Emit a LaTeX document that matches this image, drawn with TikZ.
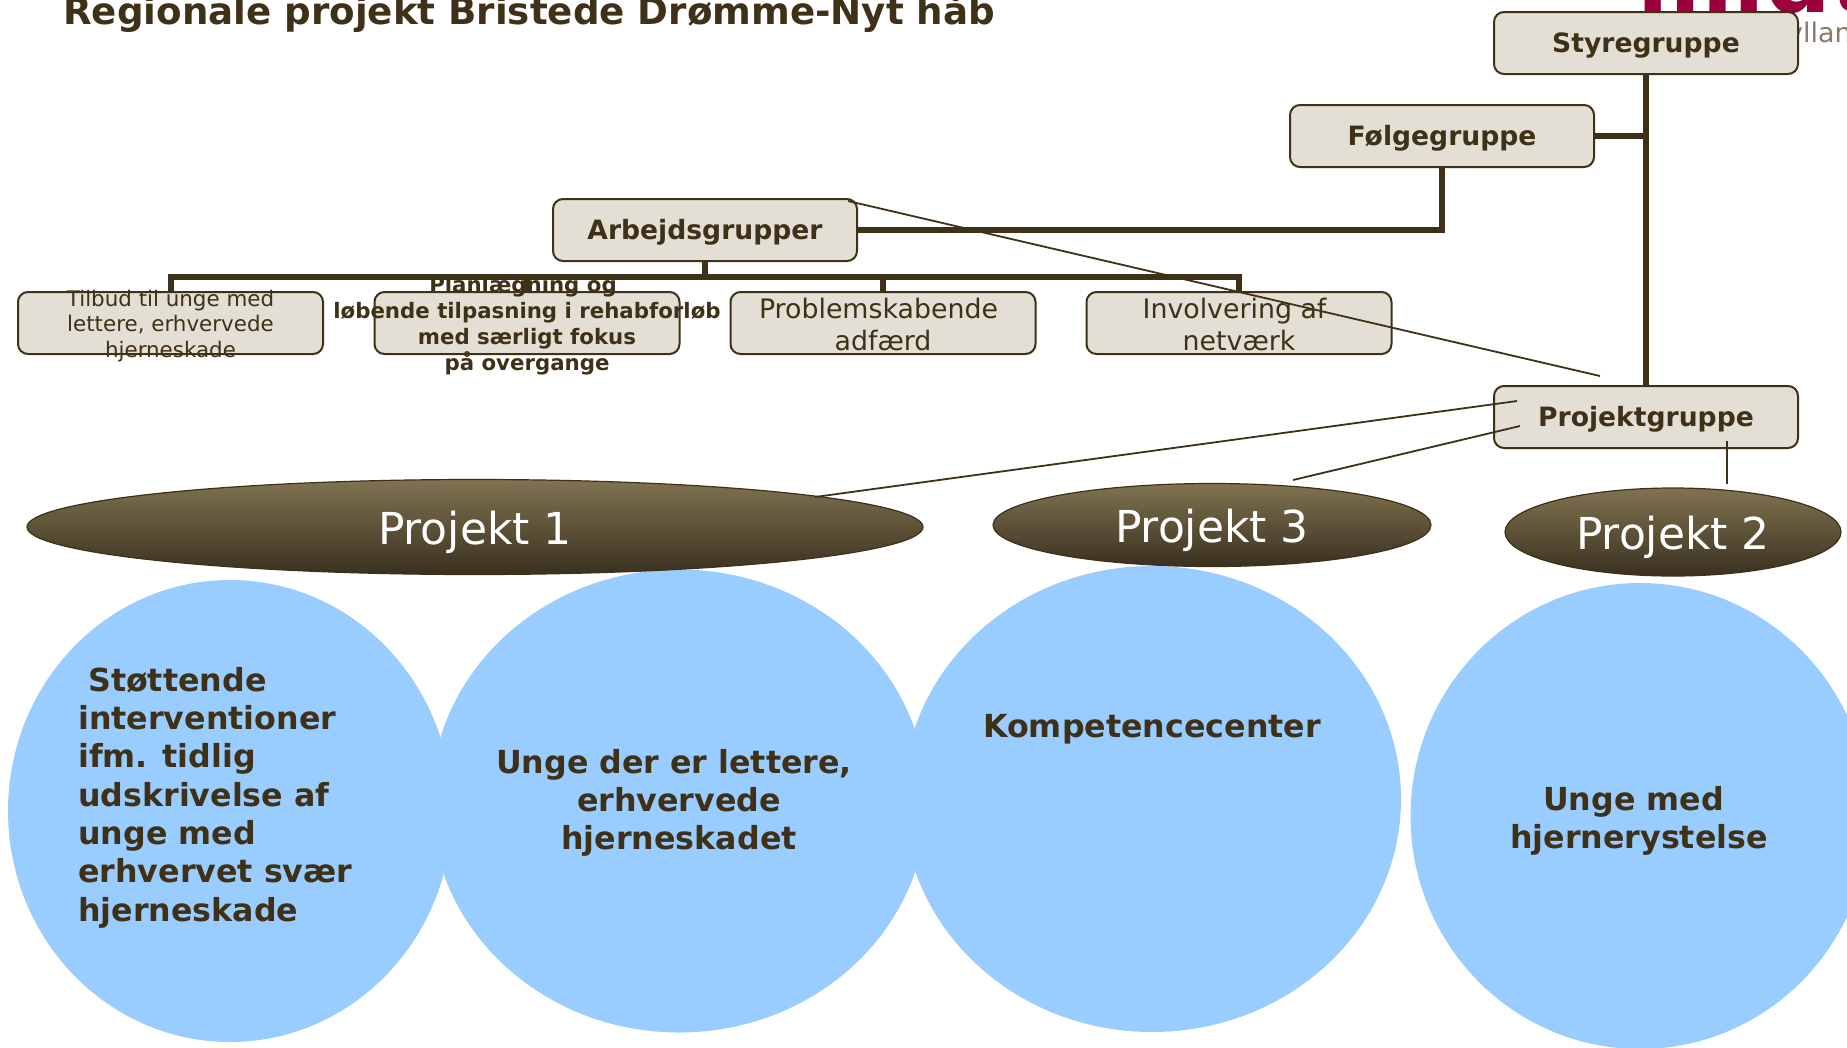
\documentclass[tikz,border=0pt]{standalone}
\usepackage{fontspec}
\setmainfont{DejaVu Sans}
\usetikzlibrary{shapes.geometric}
\definecolor{ink}{HTML}{3F3018}
\definecolor{boxfill}{HTML}{E3DFD4}
\definecolor{blob}{HTML}{99CCFF}
\definecolor{logo}{HTML}{99003C}
\definecolor{logograu}{HTML}{8A7A6A}
\definecolor{ptop}{HTML}{807350}
\definecolor{pbot}{HTML}{3A3020}
\newcommand{\fs}[2]{\fontsize{#1}{#2}\selectfont}
\newcommand{\dn}[1]{\raisebox{0pt}[\dimexpr\height+5pt\relax]{#1}}
\newcommand{\dnp}[1]{\raisebox{0pt}[\dimexpr\height+11pt\relax]{#1}}
\tikzset{
  orgbox/.style={draw=ink,line width=2pt,fill=boxfill,rounded corners=10pt,minimum width=#1,minimum height=62pt,inner sep=0pt,text=ink,align=center},
  orgbox/.default=304pt,
  thick link/.style={draw=ink,line width=6pt},
  thin link/.style={draw=ink,line width=1.8pt},
  projekt/.style={ellipse,draw=ink,line width=1.2pt,top color=ptop,bottom color=pbot,inner sep=0pt,text=white,font=\fs{44}{46}},
  blobshape/.style={ellipse,fill=blob,inner sep=0pt},
  blobtext/.style={text=ink,font=\bfseries\fs{31.7}{38.3},align=#1,inner sep=0pt},
  blobtext/.default=center,
  boxlabel/.style={font=\bfseries\fs{26.6}{30}}
}
\begin{document}
\begin{tikzpicture}[x=1pt,y=-1pt]
\useasboundingbox (0,0) rectangle (1847,1047);
\clip (0,0) rectangle (1847,1047);
% logo fragments and title
\node[anchor=base east,text=logo,font=\bfseries\fs{92}{92},inner sep=0pt] (logotext) at (1875,12) {midt};
\node[anchor=base east,text=logograu,font=\fs{27}{30},inner sep=0pt] (logosub) at (1869,42) {jylland};
\node[anchor=base west,text=ink,font=\bfseries\fs{37.2}{40},inner sep=0pt] (title) at (63,24) {Regionale projekt Bristede Drømme-Nyt håb};
% circles
\node[blobshape,minimum width=444pt,minimum height=462pt] (c1) at (230,811) {};
\node[blobshape,minimum width=459pt,minimum height=466pt] (c4) at (1640,816) {};
\node[blobshape,minimum width=496pt,minimum height=463pt] (c2) at (679,801) {};
\node[blobshape,minimum width=498pt,minimum height=466pt] (c3) at (1152,799) {};
% circle text
\node[blobtext=left,anchor=north west] (t1) at (78,667) {\hspace*{10pt}Støttende\\interventioner\\ifm. tidlig\\udskrivelse af\\unge med\\erhvervet svær\\hjerneskade};
\node[blobtext] (t2) at (679,803) {Unge der er lettere,\hspace*{10pt}\\erhvervede\\hjerneskadet};
\node[blobtext] (t3) at (1152,729) {Kompetencecenter};
\node[blobtext] (t4) at (1639,821) {Unge med\hspace*{11pt}\\hjernerystelse};
% ellipses
\node[projekt,minimum width=896pt,minimum height=95pt] (p1) at (475,527) {\dnp{Projekt 1}};
\node[projekt,minimum width=438pt,minimum height=83pt] (p3) at (1212,525) {\dnp{Projekt 3}};
\node[projekt,minimum width=336pt,minimum height=88pt] (p2) at (1673,532) {\dnp{Projekt 2}};
% boxes
\node[orgbox,boxlabel] (styre) at (1646,43) {\dn{Styregruppe}};
\node[orgbox,boxlabel] (foelge) at (1442,136) {\dn{Følgegruppe}};
\node[orgbox,boxlabel] (arbejd) at (705,230) {\dn{Arbejdsgrupper}};
\node[orgbox,boxlabel] (projgr) at (1646,417) {\dn{Projektgruppe}};
\coordinate (bus) at (705,277);
% connectors
\path[thick link] (styre.south) -- (projgr.north);
\path[thick link] (foelge.east) -- (foelge.east -| styre.south);
\path[thick link] (foelge.south) |- (arbejd.east);
\path[thick link] (arbejd.south) -- (bus);
% row boxes
\node[orgbox=305pt] (r1) at (170.5,323) {};
\node[orgbox=305pt] (r2) at (527,323) {};
\node[orgbox=305pt] (r3) at (883,323) {};
\node[orgbox=305pt] (r4) at (1239,323) {};
\path[thick link] (r1.north) |- (bus) -| (r4.north);
\path[thick link] (bus -| r2.north) -- (r2.north);
\path[thick link] (bus -| r3.north) -- (r3.north);
\node[text=ink,align=center,font=\fs{21.4}{25.5},inner sep=0pt] (r1t) at (170.5,326) {Tilbud til unge med\\lettere, erhvervede\\hjerneskade};
\node[text=ink,align=center,font=\bfseries\fs{21.3}{26},inner sep=0pt] (r2t) at (527,326) {Planlægning og\hspace*{8pt}\\løbende tilpasning i rehabforløb\\med særligt fokus\hspace*{12pt}\\på overgange};
\node[text=ink,align=center,font=\fs{26.8}{32},inner sep=0pt] (r3t) at (883,325) {Problemskabende\hspace*{9pt}\\adfærd};
\node[text=ink,align=center,font=\fs{26.8}{32},inner sep=0pt] (r4t) at (1239,325) {Involvering af\hspace*{9pt}\\netværk};
% thin links
\coordinate (a1) at (848,201); \coordinate (a2) at (1600,376);
\coordinate (b1) at (1517,401); \coordinate (b2) at (815,497);
\coordinate (d1) at (1520,426); \coordinate (d2) at (1293,480);
\coordinate (e1) at (1727,441); \coordinate (e2) at (1727,484);
\path[thin link] (a1) -- (a2);
\path[thin link] (b1) -- (b2);
\path[thin link] (d1) -- (d2);
\path[thin link] (e1) -- (e2);
\end{tikzpicture}
\end{document}
